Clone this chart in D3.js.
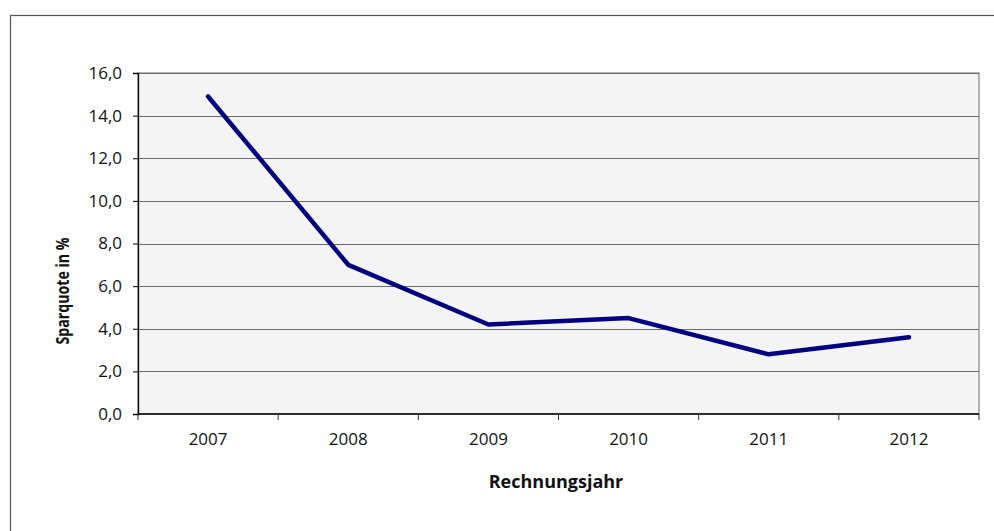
<!DOCTYPE html>
<html>
<head>
<meta charset="utf-8">
<script src="https://cdn.jsdelivr.net/npm/d3@7"></script>
<style>
  body { margin: 0; background: #fff; }
  text { font-family: "Open Sans", "Noto Sans", sans-serif; fill: #111; }
</style>
</head>
<body>
<div id="chart"></div>
<script>
const years = ['2007', '2008', '2009', '2010', '2011', '2012'];
const sparquote = [14.9, 7.0, 4.2, 4.5, 2.8, 3.6];
const yTicks = [0, 2, 4, 6, 8, 10, 12, 14, 16];

const W = 994, H = 531;
const margin = {t: 73, r: 15, b: 117, l: 138};
const width = W - margin.l - margin.r;
const height = H - margin.t - margin.b;

const svg = d3.select('#chart').append('svg').attr('width', W).attr('height', H);

// outer frame
svg.append('rect').attr('x', 10.5).attr('y', 15.5).attr('width', W).attr('height', H)
   .attr('fill', 'none').attr('stroke', '#555').attr('stroke-width', 1.2);

const g = svg.append('g').attr('transform', `translate(${margin.l},${margin.t})`);

const x = d3.scaleBand().domain(years).range([0, width]);
const y = d3.scaleLinear().domain([0, 16]).range([height, 0]);

// plot background
g.append('rect').attr('width', width).attr('height', height).attr('fill', '#f4f4f4')
  .attr('stroke', '#707070');

// gridlines
g.append('g').selectAll('line').data(yTicks.slice(1)).join('line')
  .attr('x1', 0).attr('x2', width)
  .attr('y1', d => Math.round(y(d)) + 0.5).attr('y2', d => Math.round(y(d)) + 0.5)
  .attr('stroke', '#6a6a6a').attr('stroke-width', 1.2);

// y axis
const yAxis = g.append('g')
  .call(d3.axisLeft(y).tickValues(yTicks).tickSize(5).tickPadding(11)
    .tickFormat(d => d3.format('.1f')(d).replace('.', ',')));
yAxis.select('.domain').attr('stroke', '#000').attr('stroke-width', 1.3);
yAxis.selectAll('.tick line').attr('stroke', '#000');
yAxis.selectAll('text').style('font-size', '17px').style('font-family', '"Open Sans", sans-serif').attr('fill', '#111');

// x axis (ticks at band edges)
const xAxis = g.append('g').attr('transform', `translate(0,${height})`);
xAxis.append('line').attr('x1', 0).attr('x2', width).attr('stroke', '#000').attr('stroke-width', 1.6);
xAxis.selectAll('.xt').data(d3.range(years.length + 1)).join('line')
  .attr('x1', i => i * x.step()).attr('x2', i => i * x.step())
  .attr('y1', 0).attr('y2', 6).attr('stroke', '#333');
xAxis.selectAll('.xl').data(years).join('text')
  .attr('x', d => x(d) + x.bandwidth() / 2).attr('y', 31)
  .attr('text-anchor', 'middle').style('font-size', '17px').text(d => d);

// line
const line = d3.line().x((d, i) => x(years[i]) + x.bandwidth() / 2).y(d => y(d));
g.append('path').datum(sparquote).attr('d', line)
  .attr('fill', 'none').attr('stroke', '#000080').attr('stroke-width', 4.5)
  .attr('stroke-linecap', 'round').attr('stroke-linejoin', 'round');

// axis titles
svg.append('text').attr('x', 556).attr('y', 488).attr('text-anchor', 'middle')
  .style('font-size', '18px').style('font-weight', 'bold').text('Rechnungsjahr');
svg.append('text').attr('transform', 'translate(69,291) rotate(-90)')
  .attr('text-anchor', 'middle')
  .attr('textLength', 107).attr('lengthAdjust', 'spacingAndGlyphs')
  .style('font-size', '17px').style('font-weight', 'bold').text('Sparquote in %');
</script>
</body>
</html>
